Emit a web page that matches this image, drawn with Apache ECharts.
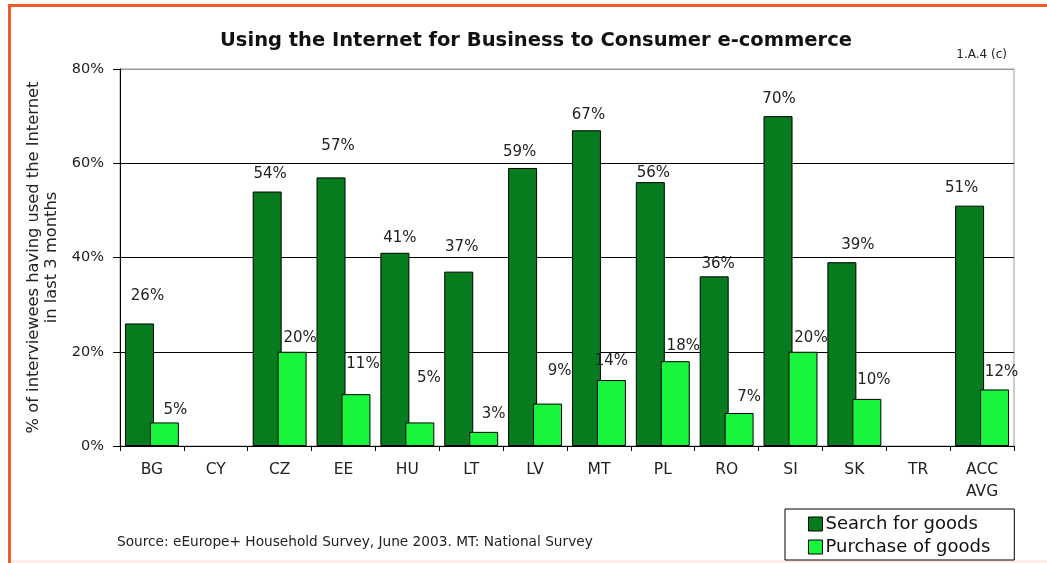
<!DOCTYPE html>
<html>
<head>
<meta charset="utf-8">
<title>Using the Internet for Business to Consumer e-commerce</title>
<script src="https://cdn.jsdelivr.net/npm/echarts@6/dist/echarts.min.js"></script>
<style>
  html, body { margin: 0; padding: 0; background: #ffffff; }
  #chart { width: 1047px; height: 563px; }
</style>
</head>
<body>
<div id="chart"></div>
<script>
// Countries surveyed (ACC AVG = acceding/candidate countries average)
const categories = ['BG', 'CY', 'CZ', 'EE', 'HU', 'LT', 'LV', 'MT', 'PL', 'RO', 'SI', 'SK', 'TR', 'ACC\nAVG'];
// % of interviewees having used the Internet in the last 3 months
const searchValues   = [26, null, 54, 57, 41, 37, 59, 67, 56, 36, 70, 39, null, 51];
const purchaseValues = [5,  null, 20, 11, 5,  3,  9,  14, 18, 7,  20, 10, null, 12];
const seriesNames = ['Search for goods', 'Purchase of goods'];
const yMin = 0, yMax = 80, yStep = 20;

// Hand-placed value labels: [dx, dy] shift from the top of each bar
const searchLabelShift   = [[8, -20], [0, 0], [3, -10], [7, -24], [5, -7], [3, -17], [-3, -8], [2, -8], [3, -1], [4, -5], [1, -10], [16, -10], [0, 0], [-8, -10]];
const purchaseLabelShift = [[11, -5], [0, 0], [8, -6], [7, -23], [9, -37], [10, -10], [12, -25], [0, -11], [8, -8], [10, -8], [8, -6], [7, -11], [0, 0], [7, -10]];

const FONT = 'DejaVu Sans';
const DARK = '#067c1f';
const LIGHT = '#18f53c';

function withLabels(values, shifts) {
  return values.map((v, i) => ({
    value: v,
    label: { offset: shifts[i] }
  }));
}

const chart = echarts.init(document.getElementById('chart'), null, { renderer: 'canvas' });

chart.setOption({
  backgroundColor: '#ffffff',
  animation: false,
  textStyle: { fontFamily: FONT },
  title: [
    {
      text: 'Using the Internet for Business to Consumer e-commerce',
      left: 220, top: 31, padding: 0,
      textStyle: { fontFamily: FONT, fontWeight: 'bold', fontSize: 19.5, color: '#111' }
    },
    {
      text: '1.A.4 (c)',
      right: 40, top: 49, padding: 0,
      textStyle: { fontFamily: FONT, fontWeight: 'normal', fontSize: 12, color: '#222' }
    },
    {
      text: 'Source: eEurope+ Household Survey, June 2003. MT: National Survey',
      left: 117, top: 535, padding: 0,
      textStyle: { fontFamily: FONT, fontWeight: 'normal', fontSize: 13.7, color: '#222' }
    }
  ],
  legend: {
    orient: 'vertical',
    left: 785, top: 509,
    padding: [6, 24, 4, 23],
    itemGap: 5,
    itemWidth: 14, itemHeight: 14,
    icon: 'rect',
    borderColor: '#000', borderWidth: 1,
    backgroundColor: '#fff',
    selectedMode: false,
    itemStyle: { borderColor: '#000', borderWidth: 1 },
    textStyle: { fontFamily: FONT, fontSize: 18, color: '#111', lineHeight: 18, padding: [0, 0, 0, -2] },
    data: seriesNames
  },
  grid: {
    left: 120, right: 33, top: 69, bottom: 117,
    show: true, borderColor: '#9a9a9a', borderWidth: 1, backgroundColor: '#fff'
  },
  xAxis: {
    type: 'category',
    data: categories,
    boundaryGap: true,
    axisLine: { lineStyle: { color: '#000', width: 1 } },
    axisTick: { show: true, length: 5, lineStyle: { color: '#000' } },
    axisLabel: { fontFamily: FONT, fontSize: 15.5, color: '#222', lineHeight: 22, margin: 13, interval: 0 }
  },
  yAxis: {
    type: 'value',
    min: yMin, max: yMax, interval: yStep,
    name: '% of interviewees having used the Internet\nin last 3 months',
    nameLocation: 'middle',
    nameRotate: 90,
    nameGap: 57,
    nameTextStyle: { fontFamily: FONT, fontSize: 16.3, color: '#222', lineHeight: 18 },
    axisLine: { show: true, lineStyle: { color: '#000', width: 1 } },
    axisTick: { show: true, length: 7, lineStyle: { color: '#000' } },
    axisLabel: { fontFamily: FONT, fontSize: 14.5, color: '#222', margin: 16, formatter: '{value}%' },
    splitLine: { show: true, lineStyle: { color: ['#000', '#000', '#000', '#000', '#9a9a9a'], width: 1 } }
  },
  series: [
    {
      name: seriesNames[0],
      type: 'bar',
      barWidth: 29,
      barGap: '-14%',
      data: withLabels(searchValues, searchLabelShift),
      itemStyle: { color: DARK, borderColor: '#000', borderWidth: 1 },
      label: {
        show: true, position: 'top', distance: 0,
        formatter: '{c}%',
        fontFamily: FONT, fontSize: 15, color: '#222'
      }
    },
    {
      name: seriesNames[1],
      type: 'bar',
      barWidth: 29,
      barGap: '-14%',
      data: withLabels(purchaseValues, purchaseLabelShift),
      itemStyle: { color: LIGHT, borderColor: '#000', borderWidth: 1 },
      label: {
        show: true, position: 'top', distance: 0,
        formatter: '{c}%',
        fontFamily: FONT, fontSize: 15, color: '#222'
      }
    }
  ],
  graphic: [
    {
      type: 'rect',
      silent: true,
      z: 100,
      shape: { x: 9.5, y: 5.5, width: 1200, height: 1200 },
      style: { fill: 'none', stroke: '#ef5a2b', lineWidth: 3 }
    },
    {
      type: 'rect',
      silent: true,
      z: -1,
      shape: { x: 11, y: 560, width: 1040, height: 3 },
      style: { fill: '#fdeee5' }
    }
  ]
});
</script>
</body>
</html>
